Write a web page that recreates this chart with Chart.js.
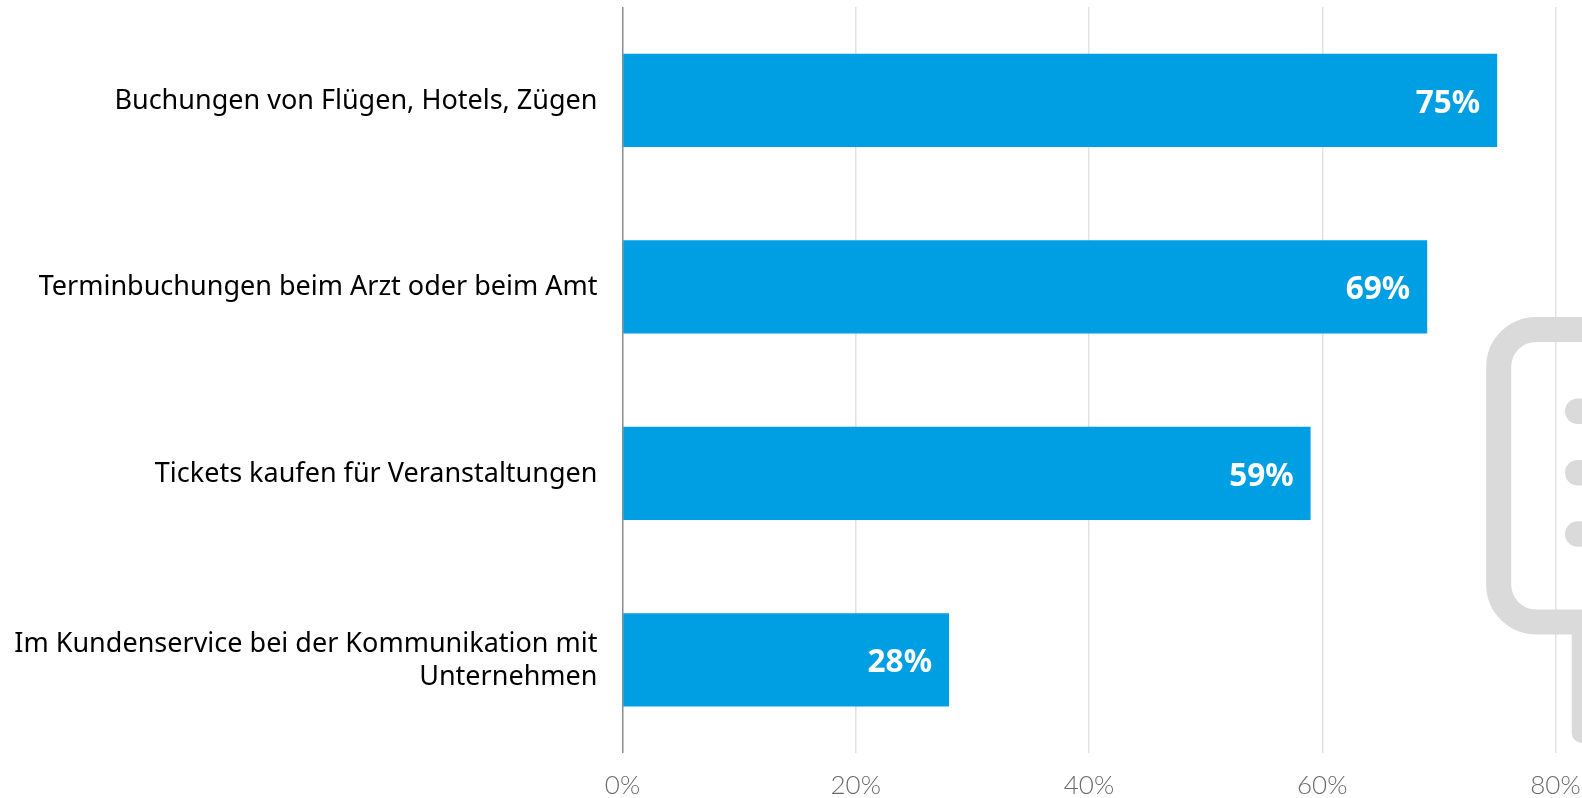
<!DOCTYPE html>
<html lang="de"><head><meta charset="utf-8">
<style>html,body{margin:0;padding:0;background:#fff}canvas{display:block}</style>
<script src="https://cdn.jsdelivr.net/npm/chart.js@4"></script>
</head><body><canvas id="c" width="1582" height="798"></canvas>
<script>
const categories = [
  "Buchungen von Flügen, Hotels, Zügen",
  "Terminbuchungen beim Arzt oder beim Amt",
  "Tickets kaufen für Veranstaltungen",
  ["Im Kundenservice bei der Kommunikation mit", "Unternehmen"]
];
const values = [75, 69, 59, 28];
const FAMILY = '"Noto Sans", sans-serif';

const icon = {
  id: 'icon',
  beforeDatasetsDraw(chart) {
    const c = chart.ctx;
    c.save();
    c.fillStyle = c.strokeStyle = '#dadada';
    c.lineWidth = 25;
    c.beginPath();
    c.roundRect(1498.7, 329.4, 300, 292.6, 37.5);
    c.stroke();
    c.beginPath();
    c.roundRect(1571.7, 620, 100, 123, 10);
    c.fill();
    [411.3, 472.7, 534].forEach(y => {
      c.beginPath();
      c.roundRect(1565, y - 12.7, 100, 25.4, 12.7);
      c.fill();
    });
    c.restore();
  }
};
const barLabels = {
  id: 'barLabels',
  afterDatasetsDraw(chart) {
    const c = chart.ctx;
    c.save();
    c.font = 'bold 31.5px ' + FAMILY;
    c.fillStyle = '#ffffff';
    c.textAlign = 'right';
    c.textBaseline = 'middle';
    chart.getDatasetMeta(0).data.forEach((bar, i) => {
      c.fillText(values[i] + '%', bar.x - 17, bar.y + 3.5);
    });
    c.restore();
  }
};
new Chart(document.getElementById('c'), {
  type: 'bar',
  data: { labels: categories, datasets: [{ data: values, backgroundColor: '#009fe3', barPercentage: 0.5, categoryPercentage: 1 }] },
  plugins: [icon, barLabels],
  options: {
    indexAxis: 'y', responsive: false, animation: false,
    layout: { padding: { top: 7, right: 26.5, left: 0, bottom: 0 } },
    plugins: { legend: { display: false }, tooltip: { enabled: false } },
    scales: {
      x: {
        min: 0, max: 80,
        afterFit(s) { s.height = 45; s.paddingLeft = 0; s.paddingRight = 0; },
        border: { display: false },
        grid: { drawTicks: false, lineWidth: 1.5, color: ctx => ctx.tick.value === 0 ? '#8c8c8c' : '#e2e2e2' },
        ticks: { stepSize: 20, padding: 17, maxRotation: 0, color: '#6a6a6a', font: { family: 'Lato, sans-serif', size: 26, weight: 300 }, callback: v => v + '%' }
      },
      y: {
        afterFit(s) { s.width = 622.5; s.paddingTop = 0; s.paddingBottom = 0; },
        border: { display: false },
        grid: { display: false, drawTicks: false },
        ticks: { padding: 25, labelOffset: 1, color: '#000000', font: { family: FAMILY, size: 27, lineHeight: 1.2 } }
      }
    }
  }
});
</script></body></html>
